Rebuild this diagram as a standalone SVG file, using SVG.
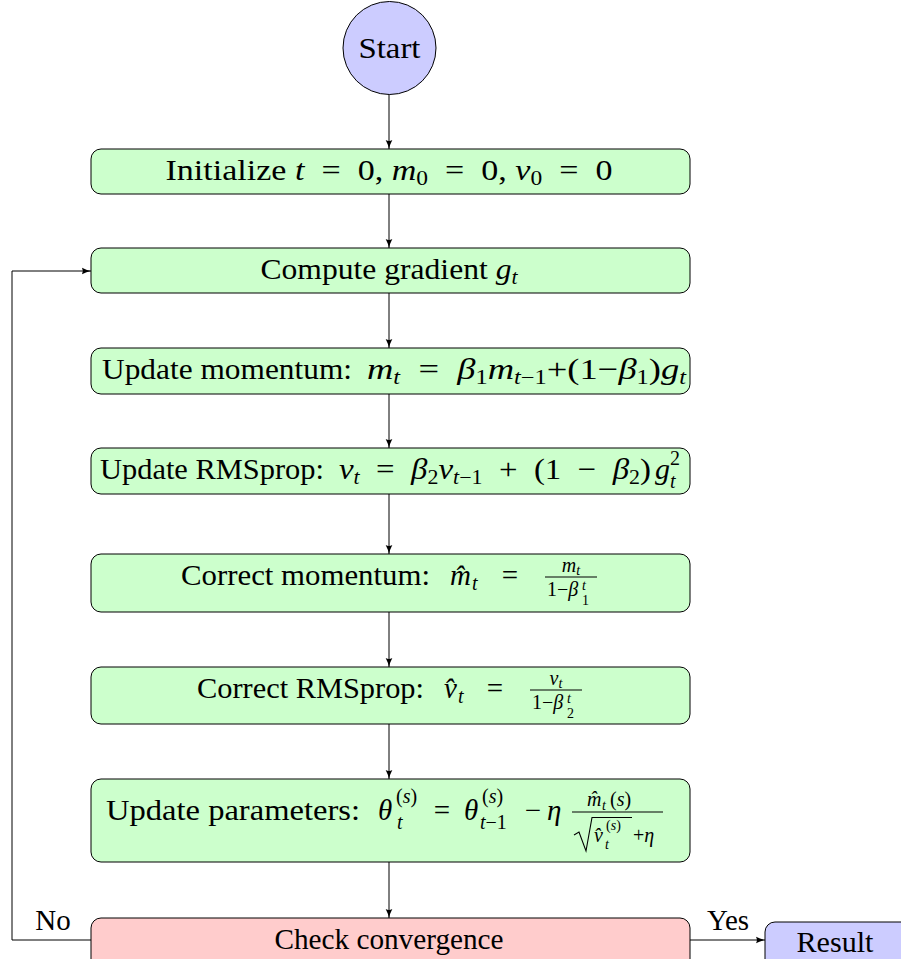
<svg xmlns="http://www.w3.org/2000/svg" width="901" height="959" viewBox="0 0 901 959">
<defs>
<marker id="arr" viewBox="0 0 10 8" refX="10" refY="4" markerWidth="9" markerHeight="7.2" orient="auto" markerUnits="userSpaceOnUse"><path d="M0,0.3 Q5,3 10,4 Q5,5 0,7.7 Q2,4 0,0.3Z" fill="#000"/></marker>
<style>
text{font-family:"Liberation Serif","Times New Roman",serif;fill:#000}
.m{font-size:29px}
.mm{font-size:30px}
.i{font-style:italic}
.s{font-size:20px}
.ss{font-size:14px}
.g{fill:#ccffcc;stroke:#000;stroke-width:1}
.r{fill:#ffcccc;stroke:#000;stroke-width:1}
.b{fill:#ccccff;stroke:#000;stroke-width:1}
.bar{stroke:#000;stroke-width:1.1;fill:none}
</style>
</defs>
<rect x="0" y="0" width="901" height="959" fill="#fff"/>
<g id="edges" fill="none" stroke="#000" stroke-width="1">
<path d="M389,94 V149" marker-end="url(#arr)"/>
<path d="M389,194 V248" marker-end="url(#arr)"/>
<path d="M389,293 V348" marker-end="url(#arr)"/>
<path d="M389,394 V448" marker-end="url(#arr)"/>
<path d="M389,494 V554" marker-end="url(#arr)"/>
<path d="M389,612 V667" marker-end="url(#arr)"/>
<path d="M389,724 V779" marker-end="url(#arr)"/>
<path d="M389,862 V918" marker-end="url(#arr)"/>
<path d="M91,940 H12 V271 H91" marker-end="url(#arr)"/>
<path d="M690,940 H765" marker-end="url(#arr)"/>
<text class="m" x="53" y="930" text-anchor="middle" stroke="none">No</text>
<text class="m" x="728" y="930" text-anchor="middle" stroke="none">Yes</text>
</g>
<g id="start">
<circle class="b" cx="389.5" cy="48" r="46.5"/>
<text class="m" x="389.5" y="58" text-anchor="middle" textLength="62" lengthAdjust="spacingAndGlyphs">Start</text>
</g>
<g id="init">
<rect class="g" x="91" y="149" width="599" height="45" rx="10"/>
<text class="m" x="389" y="180" text-anchor="middle" textLength="447" lengthAdjust="spacingAndGlyphs" xml:space="preserve">Initialize <tspan class="i">t</tspan>  =  0, <tspan class="i">m</tspan><tspan class="s" dy="5">0</tspan><tspan dy="-5">  =  0, </tspan><tspan class="i">v</tspan><tspan class="s" dy="5">0</tspan><tspan dy="-5">  =  0</tspan></text>
</g>
<g id="gradient">
<rect class="g" x="91" y="248" width="599" height="45" rx="10"/>
<text class="m" x="389" y="279" text-anchor="middle" textLength="257" lengthAdjust="spacingAndGlyphs" xml:space="preserve">Compute gradient <tspan class="i">g</tspan><tspan class="s i" dy="5">t</tspan></text>
</g>
<g id="momentum">
<rect class="g" x="91" y="348" width="599" height="46" rx="10"/>
<text class="m" x="102" y="379" textLength="250" lengthAdjust="spacingAndGlyphs">Update momentum:</text>
<text class="mm" x="367" y="379" textLength="319" lengthAdjust="spacingAndGlyphs" xml:space="preserve"><tspan class="i">m</tspan><tspan class="s i" dy="5">t</tspan><tspan dy="-5">  =  </tspan><tspan class="i">β</tspan><tspan class="s" dy="5">1</tspan><tspan class="i" dy="-5">m</tspan><tspan class="s i" dy="5">t</tspan><tspan class="s">−1</tspan><tspan dy="-5">+(1−</tspan><tspan class="i">β</tspan><tspan class="s" dy="5">1</tspan><tspan dy="-5">)</tspan><tspan class="i">g</tspan><tspan class="s i" dy="5">t</tspan></text>
</g>
<g id="rmsprop">
<rect class="g" x="91" y="448" width="599" height="46" rx="10"/>
<text class="m" x="100" y="479" textLength="224" lengthAdjust="spacingAndGlyphs">Update RMSprop:</text>
<text class="mm" x="339" y="479" textLength="312" lengthAdjust="spacingAndGlyphs" xml:space="preserve"><tspan class="i">v</tspan><tspan class="s i" dy="5">t</tspan><tspan dy="-5">  =  </tspan><tspan class="i">β</tspan><tspan class="s" dy="5">2</tspan><tspan class="i" dy="-5">v</tspan><tspan class="s i" dy="5">t</tspan><tspan class="s">−1</tspan><tspan dy="-5">  +  (1  −  </tspan><tspan class="i">β</tspan><tspan class="s" dy="5">2</tspan><tspan dy="-5">)</tspan></text>
<text class="mm i" x="655" y="479">g</text>
<text class="s" x="670" y="465">2</text>
<text class="s i" x="670" y="488">t</text>
</g>
<g id="correct-momentum">
<rect class="g" x="91" y="554" width="599" height="58" rx="10"/>
<text class="m" x="181" y="585" textLength="249" lengthAdjust="spacingAndGlyphs">Correct momentum:</text>
<text class="m i" x="450" y="585">m̂</text>
<text class="s i" x="472" y="590">t</text>
<text class="m" x="510" y="585" text-anchor="middle">=</text>
<line class="bar" x1="545" y1="577" x2="597" y2="577"/>
<text class="s" x="571" y="572" text-anchor="middle"><tspan class="i">m</tspan><tspan class="ss i" dy="3">t</tspan></text>
<text class="s" x="547" y="596">1−<tspan class="i">β</tspan></text>
<text class="ss i" x="582" y="590">t</text>
<text class="ss" x="582" y="605">1</text>
</g>
<g id="correct-rmsprop">
<rect class="g" x="91" y="667" width="599" height="57" rx="10"/>
<text class="m" x="197" y="698" textLength="227" lengthAdjust="spacingAndGlyphs">Correct RMSprop:</text>
<text class="m i" x="444" y="698">v̂</text>
<text class="s i" x="458" y="703">t</text>
<text class="m" x="495" y="698" text-anchor="middle">=</text>
<line class="bar" x1="530" y1="690" x2="582" y2="690"/>
<text class="s" x="556" y="685" text-anchor="middle"><tspan class="i">v</tspan><tspan class="ss i" dy="3">t</tspan></text>
<text class="s" x="532" y="709">1−<tspan class="i">β</tspan></text>
<text class="ss i" x="567" y="703">t</text>
<text class="ss" x="567" y="718">2</text>
</g>
<g id="update-params">
<rect class="g" x="91" y="779" width="599" height="83" rx="10"/>
<text class="m" x="106" y="820" textLength="254" lengthAdjust="spacingAndGlyphs">Update parameters:</text>
<text class="m i" x="378" y="820">θ</text>
<text class="s" x="396" y="803">(<tspan class="i">s</tspan>)</text>
<text class="s i" x="397" y="829">t</text>
<text class="m" x="442" y="820" text-anchor="middle">=</text>
<text class="m i" x="464" y="820">θ</text>
<text class="s" x="482" y="803">(<tspan class="i">s</tspan>)</text>
<text class="s" x="480" y="829"><tspan class="i">t</tspan>−1</text>
<text class="m" x="533" y="820" text-anchor="middle">−</text>
<text class="m i" x="547" y="820">η</text>
<line class="bar" x1="572" y1="812" x2="663" y2="812"/>
<text class="s i" x="587" y="806">m̂</text>
<text class="ss i" x="602" y="810">t</text>
<text class="s" x="610" y="806">(<tspan class="i">s</tspan>)</text>
<path class="bar" d="M574,835 L579,832 L586,851 L592,817.5 H632"/>
<text class="s i" x="594" y="842">v̂</text>
<text class="ss" x="606" y="830">(<tspan class="i">s</tspan>)</text>
<text class="ss i" x="605" y="849">t</text>
<text class="s" x="633" y="842">+<tspan class="i">η</tspan></text>
</g>
<g id="check">
<rect class="r" x="91" y="918" width="599" height="60" rx="10"/>
<text class="m" x="389" y="949" text-anchor="middle" textLength="229" lengthAdjust="spacingAndGlyphs">Check convergence</text>
</g>
<g id="result">
<rect class="b" x="765" y="922" width="160" height="60" rx="10"/>
<text class="m" x="835" y="952" text-anchor="middle" textLength="77" lengthAdjust="spacingAndGlyphs">Result</text>
</g>
</svg>
